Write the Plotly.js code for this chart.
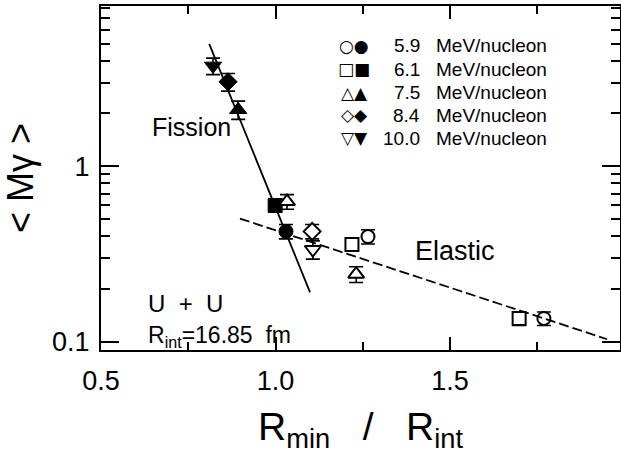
<!DOCTYPE html>
<html>
<head>
<meta charset="utf-8">
<script src="https://cdn.plot.ly/plotly-3.0.1.min.js"></script>
<style>
  html, body { margin: 0; padding: 0; background: #fff; }
  #chart { width: 621px; height: 467px; }
</style>
</head>
<body>
<div id="chart"></div>
<script>
// Beam energies and their marker shapes
const energies = ['5.9', '6.1', '7.5', '8.4', '10.0'];
const symbols = ['circle', 'square', 'triangle-up', 'diamond', 'triangle-down'];
const legendGlyphs = ['○●', '□■', '△▲', '◇◆', '▽▼'];

// Elastic (open markers): R_min/R_int, <M_gamma>, error
const elasticX = [[1.265, 1.769], [1.219, 1.698], [1.033, 1.231], [1.105], [1.107]];
const elasticY = [[0.398, 0.136], [0.359, 0.136], [0.630, 0.243], [0.426], [0.336]];
const elasticErr = [[0.037, 0.012], [0.030, 0.012], [0.060, 0.025], [0.040], [0.040]];

// Fission (filled markers)
const fissionX = [1.030, 0.999, 0.893, 0.864, 0.821];
const fissionY = [0.426, 0.598, 2.10, 3.03, 3.73];
const fissionErr = [0.040, 0.040, 0.25, 0.35, 0.40];

// Trend lines
const fissionLineX = [0.810, 1.099];
const fissionLineY = [4.98, 0.1915];
const elasticLineX = [0.898, 1.950];
const elasticLineY = [0.504, 0.1036];

const MAIN_FONT = 'Liberation Sans, Arial, sans-serif';

const traces = [];
energies.forEach((e, i) => {
  traces.push({
    type: 'scatter', mode: 'markers', name: e + ' elastic',
    x: elasticX[i], y: elasticY[i],
    error_y: { type: 'data', array: elasticErr[i], visible: true, color: '#000', thickness: 1.6, width: 7 },
    marker: { symbol: symbols[i], size: symbols[i].startsWith('triangle') ? 14 : 13,
              color: '#fff', line: { color: '#000', width: 2 } },
    showlegend: false, hoverinfo: 'x+y'
  });
  traces.push({
    type: 'scatter', mode: 'markers', name: e + ' fission',
    x: [fissionX[i]], y: [fissionY[i]],
    error_y: { type: 'data', array: [fissionErr[i]], visible: true, color: '#000', thickness: 1.6, width: 7 },
    marker: { symbol: symbols[i], size: symbols[i].startsWith('triangle') ? 15 : 14,
              color: '#000', line: { color: '#000', width: 1 } },
    showlegend: false, hoverinfo: 'x+y'
  });
});

traces.push({
  type: 'scatter', mode: 'lines', x: fissionLineX, y: fissionLineY,
  line: { color: '#000', width: 1.8 }, showlegend: false, hoverinfo: 'skip'
});
traces.push({
  type: 'scatter', mode: 'lines', x: elasticLineX, y: elasticLineY,
  line: { color: '#000', width: 1.8, dash: '10px,4px' }, showlegend: false, hoverinfo: 'skip'
});

// plot-area pixel helpers for the text blocks
const L = 101, R = 620, T = 6, B = 350;
const px = v => (v - L) / (R - L);
const py = v => (B - v) / (B - T);

const annotations = [];
const rowY = [46, 69.3, 92.7, 115, 138.3];
energies.forEach((e, i) => {
  annotations.push({ xref: 'paper', yref: 'paper', x: px(354), y: py(rowY[i]), text: legendGlyphs[i],
    showarrow: false, xanchor: 'center', yanchor: 'middle',
    font: { family: 'DejaVu Sans', size: 17, color: '#000' } });
  annotations.push({ xref: 'paper', yref: 'paper', x: px(422), y: py(rowY[i]), text: e,
    showarrow: false, xanchor: 'right', yanchor: 'middle',
    font: { family: MAIN_FONT, size: 19, color: '#000' } });
  annotations.push({ xref: 'paper', yref: 'paper', x: px(434), y: py(rowY[i]), text: 'MeV/nucleon',
    showarrow: false, xanchor: 'left', yanchor: 'middle',
    font: { family: MAIN_FONT, size: 19, color: '#000' } });
});
annotations.push({ xref: 'paper', yref: 'paper', x: px(150), y: py(127), text: 'Fission',
  showarrow: false, xanchor: 'left', yanchor: 'middle', font: { family: MAIN_FONT, size: 25, color: '#000' } });
annotations.push({ xref: 'paper', yref: 'paper', x: px(413), y: py(251), text: 'Elastic',
  showarrow: false, xanchor: 'left', yanchor: 'middle', font: { family: MAIN_FONT, size: 27, color: '#000' } });
annotations.push({ xref: 'paper', yref: 'paper', x: px(146), y: py(303), text: 'U  +  U',
  showarrow: false, xanchor: 'left', yanchor: 'middle', font: { family: MAIN_FONT, size: 24, color: '#000' } });
annotations.push({ xref: 'paper', yref: 'paper', x: px(146), y: py(336), text: 'R<sub>int</sub>=16.85  fm',
  showarrow: false, xanchor: 'left', yanchor: 'middle', font: { family: MAIN_FONT, size: 23, color: '#000' } });

const layout = {
  width: 621, height: 467,
  margin: { l: L, r: 621 - R, t: T, b: 467 - B },
  paper_bgcolor: '#fff', plot_bgcolor: '#fff',
  showlegend: false,
  xaxis: {
    range: [0.5, 1.987],
    tickvals: [0.5, 1.0, 1.5], ticktext: ['0.5', '1.0', '1.5'],
    ticks: 'inside', ticklen: 13, tickwidth: 2, tickcolor: '#000',
    minor: { tickvals: [0.75, 1.25, 1.75], ticks: 'inside', ticklen: 8, tickwidth: 2, tickcolor: '#000', showgrid: false },
    showline: true, linewidth: 2, linecolor: '#000', mirror: 'allticks',
    showgrid: false, zeroline: false,
    ticklabelstandoff: 6,
    tickfont: { family: MAIN_FONT, size: 27, color: '#000' },
    title: { text: 'R<sub>min</sub>   /   R<sub>int</sub>', font: { family: MAIN_FONT, size: 39, color: '#000' }, standoff: 17 }
  },
  yaxis: {
    type: 'log', range: [-1.046, 0.913],
    tickvals: [0.1, 1], ticktext: ['0.1', '1'],
    ticks: 'inside', ticklen: 18, tickwidth: 2, tickcolor: '#000',
    minor: { tickvals: [0.2, 0.3, 0.4, 0.5, 0.6, 0.7, 0.8, 0.9, 2, 3, 4, 5, 6, 7, 8],
             ticks: 'inside', ticklen: 9, tickwidth: 2, tickcolor: '#000', showgrid: false },
    showline: true, linewidth: 2, linecolor: '#000', mirror: 'allticks',
    showgrid: false, zeroline: false,
    ticklabelstandoff: 4,
    tickfont: { family: MAIN_FONT, size: 27, color: '#000' },
    title: { text: '< Mγ >', font: { family: MAIN_FONT, size: 36, color: '#000' }, standoff: 12 }
  },
  annotations: annotations
};

Plotly.newPlot('chart', traces, layout, { displayModeBar: false, staticPlot: true });
</script>
</body>
</html>
